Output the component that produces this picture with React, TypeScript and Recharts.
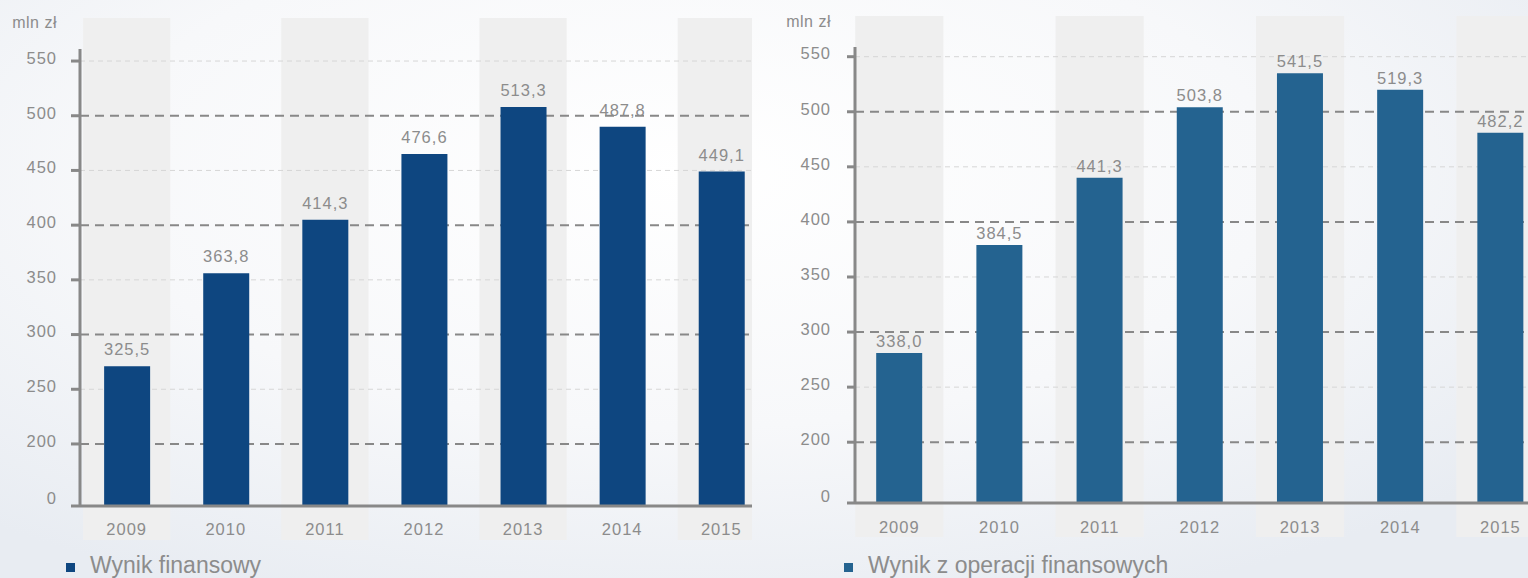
import { BarChart, Bar, XAxis, YAxis, ReferenceArea, ReferenceLine, LabelList } from 'recharts';

const years = [2009, 2010, 2011, 2012, 2013, 2014, 2015];
const shadedYears = [2009, 2011, 2013, 2015];

// printed values (mln zł)
const wynikFinansowy = [325.5, 363.8, 414.3, 476.6, 513.3, 487.8, 449.1];
const wynikOperacji = [338.0, 384.5, 441.3, 503.8, 541.5, 519.3, 482.2];

// bar tops as drawn against the axis in the picture
const wynikFinansowyBar = [271, 356, 405, 465, 508, 490, 449];
const wynikOperacjiBar = [281, 379, 440, 504, 535, 520, 481];

const yTicks = [200, 250, 300, 350, 400, 450, 500, 550];
const darkGrid = [200, 300, 400, 500];
const lightGrid = [250, 350, 450, 550];

const TEXT = '#8c8c8c';
const AXIS = '#888888';
const FONT = '"Liberation Sans", Arial, sans-serif';

const fmt = (v: number) => v.toFixed(1).replace('.', ',');

const leftData = years.map((y, i) => ({ year: y, bar: wynikFinansowyBar[i], label: fmt(wynikFinansowy[i]) }));
const rightData = years.map((y, i) => ({ year: y, bar: wynikOperacjiBar[i], label: fmt(wynikOperacji[i]) }));

type PanelProps = {
  data: any[];
  color: string;
  width: number;
  margin: { top: number; right: number; bottom: number; left: number };
  yAxisWidth: number;
  yDomain: [number, number];
  xDomain: [number, number];
  tickSize: number;
  tickMargin: number;
  labelOffset: number;
  zeroDy: number;
  xLabelDy: number;
  bandTop: number;
  bandBottom: number;
};

function Panel(p: PanelProps) {
  const [yMin, yMax] = p.yDomain;
  const [xMin, xMax] = p.xDomain;
  return (
    <BarChart width={p.width} height={578} data={p.data} margin={p.margin}>
      {shadedYears.map((y) => (
        <ReferenceArea
          key={y}
          x1={Math.max(y - 0.44, xMin)}
          x2={Math.min(y + 0.44, xMax)}
          ifOverflow="visible"
          zIndex={-90}
          shape={(s: any) => (
            <rect x={s.x} y={p.bandTop} width={s.width} height={p.bandBottom - p.bandTop} fill="#efefef" />
          )}
        />
      ))}
      {lightGrid.map((v) => (
        <ReferenceLine key={v} y={v} zIndex={-70} stroke="#d6d6d6" strokeWidth={1} strokeDasharray="5 4" />
      ))}
      {darkGrid.map((v) => (
        <ReferenceLine key={v} y={v} zIndex={-70} stroke={AXIS} strokeWidth={2} strokeDasharray="9 6" />
      ))}
      <XAxis
        dataKey="year"
        type="number"
        domain={[xMin, xMax]}
        ticks={years}
        interval={0}
        allowDataOverflow
        height={30}
        tickSize={0}
        tickLine={false}
        axisLine={{ stroke: AXIS, strokeWidth: 3 }}
        tick={(t: any) => (
          <text
            x={t.x}
            y={t.y + p.xLabelDy}
            textAnchor="middle"
            fill={TEXT}
            fontSize={16.5}
            letterSpacing={1}
            fontFamily={FONT}
          >
            {t.payload.value}
          </text>
        )}
      />
      <YAxis
        type="number"
        domain={[yMin, yMax]}
        ticks={[yMin, ...yTicks]}
        interval={0}
        allowDataOverflow
        width={p.yAxisWidth}
        tickSize={p.tickSize}
        tickMargin={p.tickMargin}
        tickLine={{ stroke: AXIS, strokeWidth: 3 }}
        axisLine={{ stroke: AXIS, strokeWidth: 3 }}
        tick={(t: any) => {
          const zero = t.payload.value < 199;
          return (
            <text
              x={t.x}
              y={zero ? t.y + p.zeroDy : t.y + 2.8}
              textAnchor="end"
              fill={TEXT}
              fontSize={16.5}
              letterSpacing={1}
              fontFamily={FONT}
            >
              {zero ? '0' : t.payload.value}
            </text>
          );
        }}
      />
      <Bar dataKey="bar" fill={p.color} barSize={46} isAnimationActive={false}>
        <LabelList
          dataKey="label"
          position="top"
          offset={p.labelOffset}
          fill={TEXT}
          fontSize={16.5}
          letterSpacing={1}
          fontFamily={FONT}
        />
      </Bar>
    </BarChart>
  );
}

function LegendItem({ left, color, text }: { left: number; color: string; text: string }) {
  return (
    <div style={{ position: 'absolute', left, top: 554, height: 23, display: 'flex', alignItems: 'center' }}>
      <div style={{ width: 9, height: 9, background: color, marginRight: 15, marginTop: 3 }} />
      <span style={{ fontSize: 23, lineHeight: '23px', color: TEXT, fontFamily: FONT, whiteSpace: 'nowrap' }}>{text}</span>
    </div>
  );
}

export default function App() {
  return (
    <div
      style={{
        position: 'absolute',
        left: 0,
        top: 0,
        width: 1528,
        height: 578,
        overflow: 'hidden',
        fontFamily: FONT,
        background: 'radial-gradient(ellipse 70% 80% at 45% 30%, #ffffff 0%, #f7f8fa 55%, #e8ecf2 100%)',
      }}
    >
      <div style={{ position: 'absolute', left: 0, top: 0 }}>
        <Panel
          data={leftData}
          color="#0e4680"
          width={760}
          margin={{ top: 49, right: 8, bottom: 42, left: 0 }}
          yAxisWidth={80}
          yDomain={[143.3, 561]}
          xDomain={[2008.529, 2015.31]}
          tickSize={9}
          tickMargin={14}
          labelOffset={11}
          zeroDy={-2.2}
          xLabelDy={27}
          bandTop={18}
          bandBottom={540}
        />
      </div>
      <div style={{ position: 'absolute', left: 760, top: 0 }}>
        <Panel
          data={rightData}
          color="#246390"
          width={768}
          margin={{ top: 47, right: 0, bottom: 45, left: 0 }}
          yAxisWidth={95}
          yDomain={[144.8, 558.8]}
          xDomain={[2008.558, 2015.275]}
          tickSize={8}
          tickMargin={16}
          labelOffset={6}
          zeroDy={-1.2}
          xLabelDy={28}
          bandTop={16}
          bandBottom={537}
        />
      </div>
      <div style={{ position: 'absolute', right: 1471, top: 15, fontSize: 16, lineHeight: '16px', color: TEXT, letterSpacing: 0.5 }}>mln zł</div>
      <div style={{ position: 'absolute', right: 697, top: 14, fontSize: 16, lineHeight: '16px', color: TEXT, letterSpacing: 0.5 }}>mln zł</div>
      <LegendItem left={66} color="#0e4680" text="Wynik finansowy" />
      <LegendItem left={844} color="#246390" text="Wynik z operacji finansowych" />
    </div>
  );
}
